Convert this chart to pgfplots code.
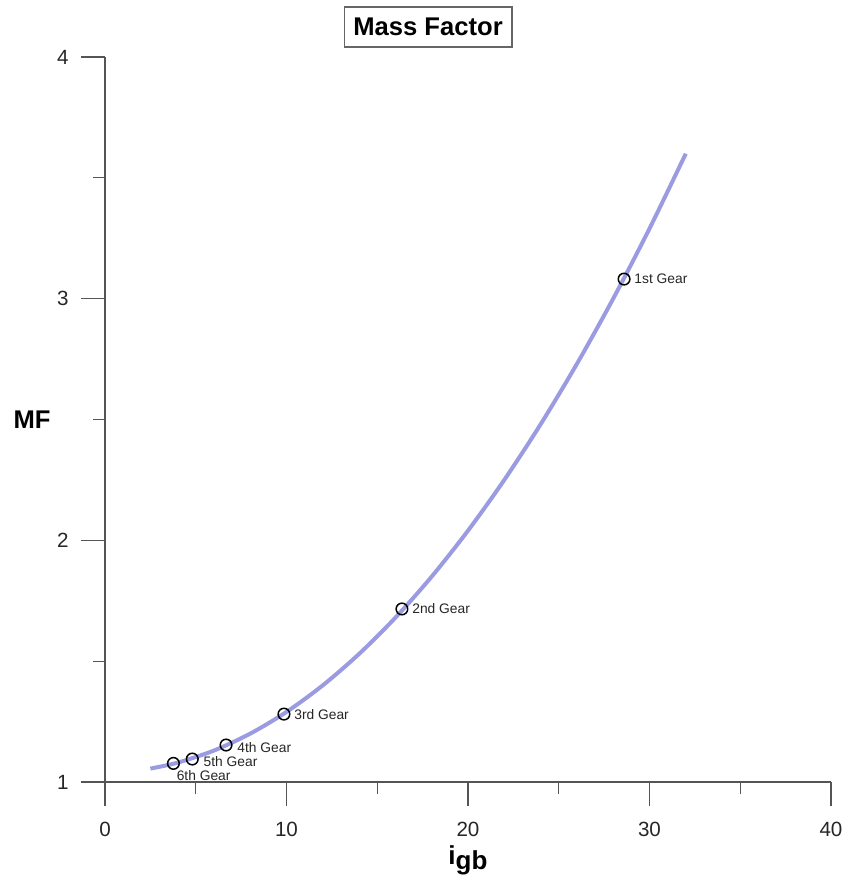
\documentclass[border=0pt]{standalone}
\usepackage{fontspec}
\setmainfont{Liberation Sans}
\usepackage{pgfplots}
\pgfplotsset{compat=1.18}

\definecolor{curve}{RGB}{155,155,225}
\definecolor{axisgray}{RGB}{85,85,85}

\begin{document}
\begin{tikzpicture}
\useasboundingbox (-52.5pt,-46.5pt) rectangle (369.5pt,391pt);
\begin{axis}[
  at={(0,0)}, anchor=south west,
  scale only axis, width=363pt, height=362.5pt,
  xmin=0, xmax=40, ymin=1, ymax=4,
  axis x line*=bottom, axis y line*=left,
  axis line style={axisgray, line width=0.6pt},
  xtick={0,10,20,30,40}, ytick={1,2,3,4},
  minor tick num=1,
  tick align=outside,
  major tick length=12pt, minor tick length=6pt,
  tick style={axisgray, line width=0.6pt},
  /pgf/number format/assume math mode=true,
  tick label style={font=\fontsize{10.3}{12}\selectfont, text=black!85},
  yticklabel style={anchor=east, inner sep=0pt, xshift=-6pt},
  xticklabel style={anchor=north, inner sep=0pt, yshift=-8pt},
  title={Mass Factor},
  title style={at={(0.445,1)}, anchor=center, yshift=9pt,
    font=\bfseries\fontsize{12.8}{14}\selectfont,
    draw=black!60, line width=0.8pt, inner xsep=4.5pt,
    minimum height=20pt},
  xlabel={\textbf{i\raisebox{-0.3ex}{gb}}},
  xlabel style={at={(axis description cs:0.5,0)}, anchor=base,
    yshift=-41.5pt, font=\fontsize{13}{15}\selectfont},
  ylabel={\textbf{MF}},
  ylabel style={at={(axis description cs:0,0.5)}, anchor=center,
    rotate=-90, xshift=-36.5pt, font=\fontsize{12.8}{14}\selectfont},
  clip=false,
]
% fitted mass factor curve
\addplot[curve, line width=2pt, smooth] coordinates {
  (2.5,1.0556) (4,1.080) (6,1.130) (8,1.200) (10,1.290) (12,1.400)
  (14,1.530) (16,1.680) (18,1.850) (20,2.040) (22,2.250) (24,2.480)
  (26,2.730) (28,3.000) (30,3.290) (32,3.600)
};
% individual gears
\addplot[only marks, mark=o, mark size=2.9pt,
  mark options={black, line width=0.75pt}] coordinates {
  (28.6,3.081) (16.36,1.716) (9.86,1.281) (6.67,1.153) (4.81,1.095) (3.77,1.077)
};
\begin{scope}[every node/.style={font=\fontsize{6.9}{8}\selectfont, inner sep=0pt, text=black!85}]
\node[anchor=west, xshift=5pt] at (axis cs:28.6,3.081) {1st Gear};
\node[anchor=west, xshift=5pt] at (axis cs:16.36,1.716) {2nd Gear};
\node[anchor=west, xshift=5pt] at (axis cs:9.86,1.281) {3rd Gear};
\node[anchor=west, xshift=5.5pt, yshift=-1.5pt] at (axis cs:6.67,1.153) {4th Gear};
\node[anchor=west, xshift=5.5pt, yshift=-1.5pt] at (axis cs:4.81,1.095) {5th Gear};
\node[anchor=west, xshift=1.5pt, yshift=-6pt] at (axis cs:3.77,1.077) {6th Gear};
\end{scope}
\end{axis}
\end{tikzpicture}
\end{document}
